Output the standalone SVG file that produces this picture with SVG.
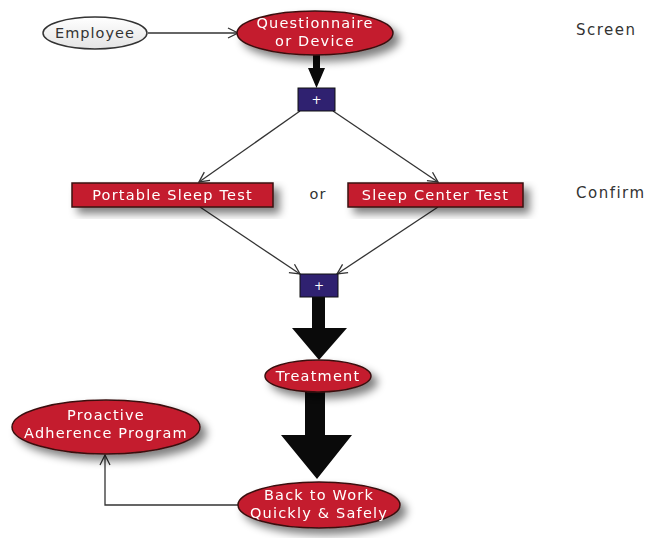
<svg xmlns="http://www.w3.org/2000/svg" width="650" height="538" viewBox="0 0 650 538">
<style>
.red{fill:#c41f2f;stroke:#3a1010;stroke-width:1.5}
.wt{fill:#ffffff;font-family:"DejaVu Sans",sans-serif;font-size:14.5px;letter-spacing:1.2px;text-anchor:middle}
.dk{fill:#333333;font-family:"DejaVu Sans",sans-serif;font-size:14.5px;letter-spacing:1px;text-anchor:middle}
.lbl{fill:#333333;font-family:"DejaVu Sans",sans-serif;font-size:15px;letter-spacing:1.5px}
.box{fill:#2f2170;stroke:#111;stroke-width:1}
.thin{fill:none;stroke:#333;stroke-width:1.3}
.thick{fill:#0a0a0a}
</style>
<defs>
<filter id="sh" x="-20%" y="-30%" width="150%" height="180%">
<feGaussianBlur in="SourceAlpha" stdDeviation="4"/>
<feOffset dx="6" dy="6" result="b"/>
<feComponentTransfer><feFuncA type="linear" slope="0.5"/></feComponentTransfer>
<feMerge><feMergeNode/><feMergeNode in="SourceGraphic"/></feMerge>
</filter>
<linearGradient id="wg" x1="0" y1="0" x2="0" y2="1">
<stop offset="0" stop-color="#ffffff"/><stop offset="1" stop-color="#e4e4e4"/>
</linearGradient>
<marker id="open" viewBox="0 0 12 12" refX="11" refY="6" markerWidth="12" markerHeight="12" markerUnits="userSpaceOnUse" orient="auto">
<path d="M1,1 L11,6 L1,11" fill="none" stroke="#333" stroke-width="1.3"/>
</marker>
</defs>
<g id="connectors">
<line class="thin" x1="148" y1="33" x2="238" y2="33" marker-end="url(#open)"/>
<path class="thick" d="M313,55 L320,55 L320,68 L325,68 L316.5,88 L308,68 L313,68 Z"/>
<line class="thin" x1="300" y1="111" x2="199" y2="182" marker-end="url(#open)"/>
<line class="thin" x1="333" y1="111" x2="438" y2="182" marker-end="url(#open)"/>
<line class="thin" x1="200" y1="207" x2="300" y2="274" marker-end="url(#open)"/>
<line class="thin" x1="438" y1="207" x2="337" y2="274" marker-end="url(#open)"/>
<path class="thick" d="M312,297 L325,297 L325,328 L347,328 L319,360 L292,328 L312,328 Z"/>
<path class="thick" d="M305,392 L325,392 L325,435 L352,435 L317,479 L281,435 L305,435 Z"/>
<polyline class="thin" points="238,505 105,505 105,455" marker-end="url(#open)"/>
</g>
<g id="employee">
<ellipse cx="95" cy="33" rx="52" ry="16" fill="url(#wg)" stroke="#333" stroke-width="1.5"/>
<text class="dk" x="95" y="38">Employee</text>
</g>
<g id="questionnaire" filter="url(#sh)">
<ellipse class="red" cx="315" cy="33" rx="78" ry="22"/>
<text class="wt" x="315" y="28">Questionnaire</text>
<text class="wt" x="315" y="46">or Device</text>
</g>
<g id="plus1">
<rect class="box" x="298" y="88" width="37" height="23"/>
<text class="wt" x="316.5" y="104" style="font-size:12px;letter-spacing:0">+</text>
</g>
<g id="portable" filter="url(#sh)">
<rect class="red" x="72" y="183" width="201" height="24"/>
<text class="wt" x="172.5" y="200">Portable Sleep Test</text>
</g>
<g id="or">
<text class="dk" x="318" y="199">or</text>
</g>
<g id="center" filter="url(#sh)">
<rect class="red" x="348" y="183" width="175" height="24"/>
<text class="wt" x="435.5" y="200">Sleep Center Test</text>
</g>
<g id="plus2">
<rect class="box" x="300" y="274" width="38" height="23"/>
<text class="wt" x="319" y="290" style="font-size:12px;letter-spacing:0">+</text>
</g>
<g id="treatment" filter="url(#sh)">
<ellipse class="red" cx="318" cy="376" rx="53" ry="16"/>
<text class="wt" x="318" y="381">Treatment</text>
</g>
<g id="backtowork" filter="url(#sh)">
<ellipse class="red" cx="319" cy="505" rx="81" ry="23"/>
<text class="wt" x="319" y="500">Back to Work</text>
<text class="wt" x="319" y="518">Quickly &amp; Safely</text>
</g>
<g id="proactive" filter="url(#sh)">
<ellipse class="red" cx="106" cy="427" rx="94" ry="27"/>
<text class="wt" x="106" y="420">Proactive</text>
<text class="wt" x="106" y="438">Adherence Program</text>
</g>
<g id="labels">
<text class="lbl" x="576" y="35">Screen</text>
<text class="lbl" x="576" y="198">Confirm</text>
</g>
</svg>
